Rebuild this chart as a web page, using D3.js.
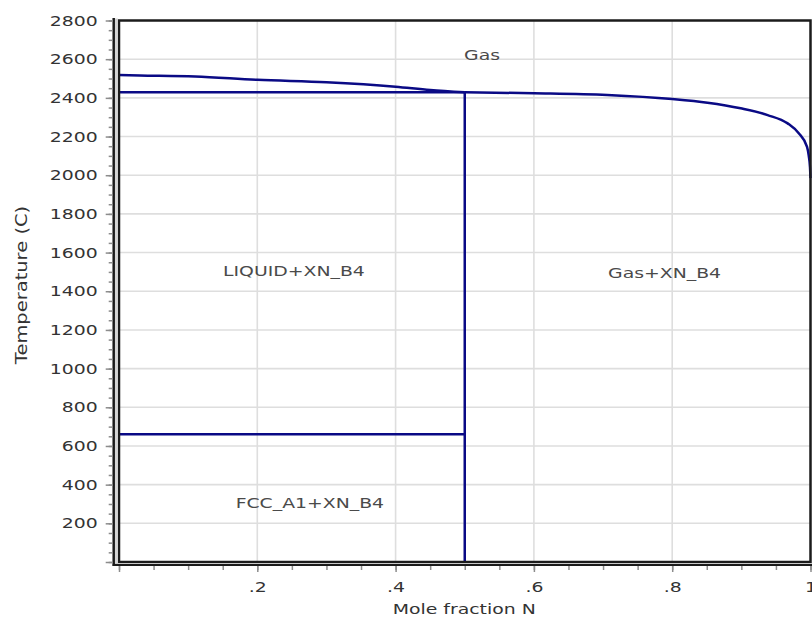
<!DOCTYPE html>
<html>
<head>
<meta charset="utf-8">
<script src="https://cdn.jsdelivr.net/npm/d3@7"></script>
<style>
  html, body { margin: 0; padding: 0; background: #fff; overflow: hidden; }
  svg { display: block; font-family: "DejaVu Sans", Verdana, sans-serif; }
</style>
</head>
<body>
<svg id="chart" width="812" height="617"></svg>
<script>
// Phase boundaries: mole fraction N against temperature (°C)
const liquidusX = [0, 0.03, 0.11, 0.2, 0.3, 0.4, 0.45, 0.5];
const liquidusT = [2518, 2516, 2511, 2493, 2481, 2458, 2441, 2429];

const gasX = [0.5, 0.6, 0.706, 0.8, 0.851, 0.899, 0.938, 0.967, 0.983, 0.995, 0.9975, 0.9993, 1.0];
const gasT = [2429, 2424, 2415, 2394, 2375, 2346, 2311, 2268, 2217, 2146, 2100, 2040, 1985];

const compoundX = 0.5;            // XN_B4 line compound
const invariantT = [2429, 660];   // horizontal invariant lines (x from 0 to compound)

// Axis ticks
const xMajorTicks = [0, 0.2, 0.4, 0.6, 0.8, 1.0];
const xTickLabels = ["", ".2", ".4", ".6", ".8", "1"];
const yMajorTicks = [0, 200, 400, 600, 800, 1000, 1200, 1400, 1600, 1800, 2000, 2200, 2400, 2600, 2800];
const yTickLabels = ["", "200", "400", "600", "800", "1000", "1200", "1400", "1600", "1800", "2000", "2200", "2400", "2600", "2800"];

// Phase field names and where they sit (mole fraction, °C)
const regionNames = ["Gas", "LIQUID+XN_B4", "Gas+XN_B4", "FCC_A1+XN_B4"];
const regionAtX = [0.525, 0.253, 0.789, 0.276];
const regionAtT = [2622, 1504, 1497, 305];

const xTitle = "Mole fraction N";
const yTitle = "Temperature (C)";

// ---- drawing ----
const svg = d3.select("#chart");
svg.append("rect").attr("width", 812).attr("height", 617).attr("fill", "#fff");

const x = d3.scaleLinear().domain([0, 1]).range([119, 810.5]);
const y = d3.scaleLinear().domain([0, 2800]).range([562, 20.5]);

const lineColor = "#0a0a85";
const gridColor = "#dedede";
const tickColor = "#8c8c8c";
const textColor = "#333";
const stretch = "scale(1.3,1)";

// grid
const grid = svg.append("g");
grid.selectAll("line.gx")
  .data(xMajorTicks.filter(v => v > 0 && v < 1))
  .join("line")
  .attr("x1", d => x(d)).attr("x2", d => x(d))
  .attr("y1", y(2800)).attr("y2", y(0))
  .attr("stroke", gridColor).attr("stroke-width", 1.6);
grid.selectAll("line.gy")
  .data(yMajorTicks.filter(v => v > 0 && v < 2800))
  .join("line")
  .attr("x1", x(0)).attr("x2", x(1))
  .attr("y1", d => y(d)).attr("y2", d => y(d))
  .attr("stroke", gridColor).attr("stroke-width", 1.6);

// region labels
svg.append("g").selectAll("text")
  .data(regionNames)
  .join("text")
  .attr("transform", (d, i) => `translate(${x(regionAtX[i])},${y(regionAtT[i])}) ${stretch}`)
  .attr("text-anchor", "middle")
  .attr("dominant-baseline", "central")
  .attr("font-size", 14.5)
  .attr("fill", "#4a4a4a")
  .text(d => d);

// phase boundaries
const liquidus = liquidusX.map((v, i) => [v, liquidusT[i]]);
const gasLine = gasX.map((v, i) => [v, gasT[i]]);
const lineGen = d3.line().x(d => x(d[0])).y(d => y(d[1])).curve(d3.curveMonotoneX);

const marks = svg.append("g")
  .attr("fill", "none")
  .attr("stroke", lineColor)
  .attr("stroke-width", 2.5);

marks.append("path").attr("d", lineGen(liquidus));
marks.append("path").attr("d", lineGen(gasLine));
marks.selectAll("line.inv")
  .data(invariantT)
  .join("line")
  .attr("x1", x(0)).attr("x2", x(compoundX))
  .attr("y1", d => y(d)).attr("y2", d => y(d));
marks.append("line")
  .attr("x1", x(compoundX)).attr("x2", x(compoundX))
  .attr("y1", y(invariantT[0])).attr("y2", y(0));

// plot frame
svg.append("rect")
  .attr("x", x(0)).attr("y", y(2800))
  .attr("width", x(1) - x(0)).attr("height", y(0) - y(2800))
  .attr("fill", "none").attr("stroke", "#1b1b1b").attr("stroke-width", 2.5);

// outer axis lines with a light band between them and the frame
const axisX = 113.7, axisY = 565;
svg.append("rect").attr("x", axisX + 1).attr("y", y(2800) - 2)
  .attr("width", x(0) - axisX - 2.2).attr("height", axisY - y(2800) + 1)
  .attr("fill", "#d4d4d4");
svg.append("rect").attr("x", axisX).attr("y", y(0) + 1)
  .attr("width", 812 - axisX).attr("height", axisY - y(0) - 1)
  .attr("fill", "#c8c8c8");
svg.append("line").attr("x1", axisX).attr("x2", axisX)
  .attr("y1", y(2800) - 2.5).attr("y2", axisY + 1)
  .attr("stroke", "#1b1b1b").attr("stroke-width", 2.5);
svg.append("line").attr("x1", axisX - 1).attr("x2", 812)
  .attr("y1", axisY).attr("y2", axisY)
  .attr("stroke", "#1b1b1b").attr("stroke-width", 2.2);

// y axis ticks
const yMinor = d3.range(0, 2801, 50);
svg.append("g").attr("transform", `translate(${axisX - 1},0)`)
  .call(d3.axisLeft(y).tickValues(yMinor).tickSize(4).tickFormat("").tickSizeOuter(0))
  .call(g => g.select(".domain").remove())
  .call(g => g.selectAll("line").attr("stroke", tickColor).attr("stroke-width", 1.5));
svg.append("g").attr("transform", `translate(${axisX - 1},0)`)
  .call(d3.axisLeft(y).tickValues(yMajorTicks).tickSize(7)
    .tickFormat((d, i) => yTickLabels[i]).tickSizeOuter(0))
  .call(g => g.select(".domain").remove())
  .call(g => g.selectAll("line").attr("stroke", tickColor).attr("stroke-width", 1.5))
  .call(g => g.selectAll("text")
    .attr("x", 0)
    .attr("transform", `translate(-15,0) ${stretch}`)
    .attr("font-size", 14.5)
    .attr("font-family", "DejaVu Sans, Verdana, sans-serif")
    .attr("fill", textColor));

// x axis ticks
const xMinor = d3.range(0, 21).map(i => i * 0.05);
svg.append("g").attr("transform", `translate(0,${axisY + 1})`)
  .call(d3.axisBottom(x).tickValues(xMinor).tickSize(4).tickFormat("").tickSizeOuter(0))
  .call(g => g.select(".domain").remove())
  .call(g => g.selectAll("line").attr("stroke", tickColor).attr("stroke-width", 1.5));
svg.append("g").attr("transform", `translate(0,${axisY + 1})`)
  .call(d3.axisBottom(x).tickValues(xMajorTicks).tickSize(6).tickPadding(10)
    .tickFormat((d, i) => xTickLabels[i]).tickSizeOuter(0))
  .call(g => g.select(".domain").remove())
  .call(g => g.selectAll("line").attr("stroke", tickColor).attr("stroke-width", 1.5))
  .call(g => g.selectAll("text")
    .attr("transform", stretch)
    .attr("font-size", 14.5)
    .attr("font-family", "DejaVu Sans, Verdana, sans-serif")
    .attr("fill", textColor));

// axis titles
svg.append("text")
  .attr("transform", `translate(${(x(0) + x(1)) / 2 - 0.5},614) ${stretch}`)
  .attr("text-anchor", "middle")
  .attr("font-size", 14.5)
  .attr("fill", textColor)
  .text(xTitle);
svg.append("text")
  .attr("transform", `translate(26.5,285) rotate(-90) ${stretch}`)
  .attr("text-anchor", "middle")
  .attr("font-size", 15)
  .attr("fill", textColor)
  .text(yTitle);
</script>
</body>
</html>
